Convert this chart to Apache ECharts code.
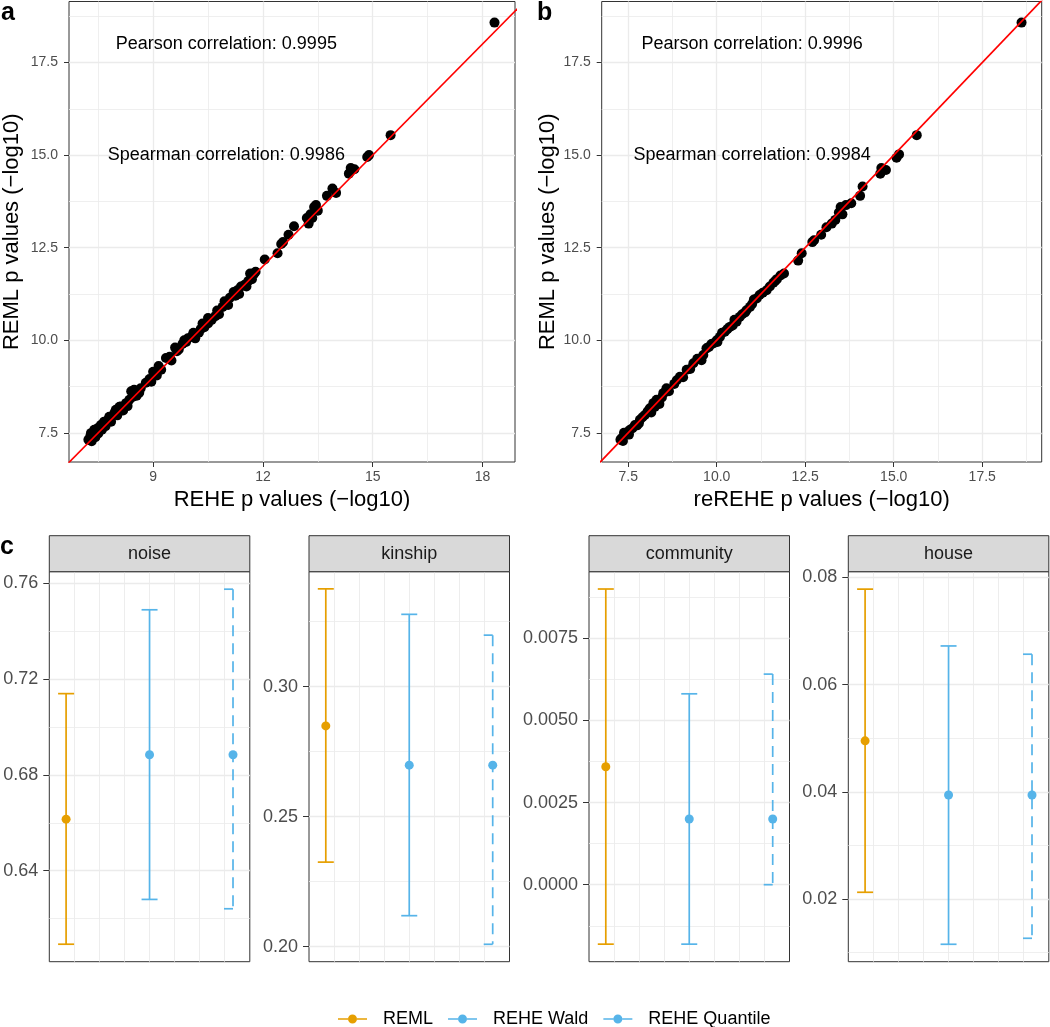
<!DOCTYPE html>
<html>
<head>
<meta charset="utf-8">
<script src="https://cdn.jsdelivr.net/npm/echarts@6/dist/echarts.min.js"></script>
<style>
html,body{margin:0;padding:0;background:#fff;}
#chart{width:1050px;height:1027px;}
</style>
</head>
<body>
<div id="chart"></div>
<script>
// ---------------- DATA ----------------
// Panel a: REHE (x) vs REML (y), -log10 p values
const panelA_REHE = [7.23,7.28,7.32,7.36,7.30,7.39,7.42,7.48,7.50,7.57,7.60,7.66,7.70,7.75,7.80,7.85,7.94,7.98,8.02,8.08,8.12,8.18,8.26,8.30,8.35,8.44,8.40,8.48,8.55,8.66,8.62,8.80,8.90,8.95,9.00,9.10,9.15,9.22,9.35,9.50,9.60,9.70,9.80,9.85,9.95,10.05,10.25,10.30,10.40,10.50,10.50,10.70,10.75,10.90,11.00,11.10,11.20,11.25,11.40,11.50,11.60,11.65,11.75,12.05,12.40,12.50,12.55,12.70,12.85,13.20,13.25,13.30,13.35,13.40,13.45,13.50,13.75,13.90,14.00,14.35,14.40,14.50,14.85,14.90,15.49,18.33,
  9.45,9.65,9.90,10.10,10.15,10.35,10.60,10.80,10.95,11.05,11.30,11.35,11.55,11.70,11.80];
const panelA_REML = [7.31,7.40,7.27,7.45,7.49,7.58,7.38,7.62,7.48,7.71,7.58,7.80,7.68,7.84,7.93,7.80,8.03,8.12,7.97,8.20,8.21,8.10,8.30,8.22,8.39,8.47,8.62,8.66,8.50,8.70,8.58,8.85,8.95,8.88,9.15,9.05,9.30,9.20,9.52,9.45,9.80,9.75,9.90,10.00,10.05,10.10,10.20,10.30,10.35,10.45,10.60,10.65,10.80,10.90,11.00,11.15,11.30,11.20,11.45,11.50,11.60,11.80,11.78,12.18,12.35,12.60,12.65,12.85,13.08,13.30,13.15,13.40,13.30,13.60,13.65,13.50,13.90,14.10,13.98,14.50,14.65,14.62,14.95,15.00,15.54,18.58,
  9.55,9.70,9.95,10.20,10.05,10.45,10.55,10.70,11.05,10.95,11.35,11.25,11.45,11.65,11.85];
// Panel b: reREHE (x) vs REML (y)
const panelB_reREHE = [7.28,7.31,7.35,7.41,7.38,7.48,7.55,7.52,7.62,7.69,7.75,7.83,7.80,7.90,7.97,8.05,8.11,8.15,8.21,8.25,8.30,8.38,8.45,8.49,8.58,8.55,8.65,8.80,8.87,8.96,9.05,9.15,9.25,9.34,9.57,9.71,9.85,9.90,10.00,10.09,10.02,10.23,10.37,10.45,10.56,10.65,10.84,10.94,10.80,11.13,11.21,11.05,11.41,11.50,11.60,11.70,11.90,12.30,12.40,12.70,12.75,12.95,13.10,13.25,13.35,13.45,13.50,13.55,13.65,13.80,14.05,14.12,14.62,14.65,14.78,15.08,15.15,15.65,18.61,
  9.45,9.62,9.78,10.15,10.30,10.50,10.72,11.00,11.30,11.65,11.80];
const panelB_REML = [7.31,7.35,7.28,7.44,7.50,7.52,7.58,7.45,7.62,7.71,7.70,7.85,7.75,7.92,7.98,8.08,8.16,8.05,8.30,8.20,8.39,8.28,8.45,8.57,8.70,8.60,8.62,8.82,8.92,9.01,9.00,9.20,9.22,9.38,9.46,9.78,9.90,9.91,10.00,10.09,9.95,10.23,10.36,10.40,10.50,10.63,10.81,10.90,10.75,11.13,11.22,11.10,11.35,11.45,11.55,11.65,11.80,12.15,12.35,12.65,12.70,12.85,13.05,13.15,13.25,13.45,13.60,13.40,13.65,13.70,13.90,14.15,14.50,14.65,14.60,14.93,15.02,15.54,18.58,
  9.50,9.60,9.82,10.20,10.30,10.55,10.70,10.98,11.28,11.60,11.75];
const annotA = ['Pearson correlation: 0.9995', 'Spearman correlation: 0.9986'];
const annotB = ['Pearson correlation: 0.9996', 'Spearman correlation: 0.9984'];
const annotX = [11, 11];
const annotY = [18, 15];

// Panel a/b tick labels
const abY_major = [7.5, 10, 12.5, 15, 17.5];
const abY_minor = [8.75, 11.25, 13.75, 16.25, 18.75];
const aX_major = [9, 12, 15, 18];
const aX_minor = [7.5, 10.5, 13.5, 16.5];
const bX_major = [7.5, 10, 12.5, 15, 17.5];
const bX_minor = [8.75, 11.25, 13.75, 16.25, 18.75];

// Panel c: variance component estimates with intervals
const facets = ['noise', 'kinship', 'community', 'house'];
const methods = ['REML', 'REHE Wald', 'REHE Quantile'];
const methodX = [0.67, 4.0, 7.33];
const est_noise = [0.6615, 0.6884, 0.6884];
const lo_noise  = [0.6093, 0.6280, 0.6241];
const hi_noise  = [0.7139, 0.7489, 0.7575];
const est_kinship = [0.2849, 0.2698, 0.2698];
const lo_kinship  = [0.2325, 0.2119, 0.2009];
const hi_kinship  = [0.3376, 0.3278, 0.3198];
const est_community = [0.00359, 0.00200, 0.00200];
const lo_community  = [-0.00181, -0.00181, 0.00000];
const hi_community  = [0.00900, 0.00581, 0.00641];
const est_house = [0.0495, 0.0394, 0.0394];
const lo_house  = [0.02125, 0.01155, 0.01267];
const hi_house  = [0.0778, 0.0672, 0.06566];
const noise_major = [0.64, 0.68, 0.72, 0.76];
const noise_minor = [0.62, 0.66, 0.70, 0.74];
const kinship_major = [0.20, 0.25, 0.30];
const kinship_minor = [0.225, 0.275, 0.325];
const community_major = [0, 0.0025, 0.005, 0.0075];
const community_minor = [-0.00125, 0.00125, 0.00375, 0.00625, 0.00875];
const house_major = [0.02, 0.04, 0.06, 0.08];
const house_minor = [0.01, 0.03, 0.05, 0.07];
const cX_grid = [1, 2, 3, 4, 5, 6, 7];

// ---------------- LAYOUT / STYLE ----------------
const FONT = '"Liberation Sans", Arial, Helvetica, sans-serif';
const COLORS = ['#E69F00', '#56B4E9', '#56B4E9'];

const option = {
  animation: false,
  backgroundColor: '#ffffff',
  grid: [], xAxis: [], yAxis: [], series: [], graphic: []
};

function addAxes(list, gi, dim, min, max, majors, minors, lab) {
  list.push({
    type: 'value', gridIndex: gi, min: min, max: max,
    position: dim === 'x' ? 'top' : 'right',
    axisLine: {show: false, onZero: false},
    axisTick: {show: false, customValues: minors},
    axisLabel: {show: false, customValues: minors},
    splitLine: {show: minors.length > 0, lineStyle: {color: '#ebebeb', width: 0.8}}
  });
  const idx = list.length;
  list.push({
    type: 'value', gridIndex: gi, min: min, max: max,
    position: dim === 'x' ? 'bottom' : 'left',
    axisLine: {show: false, onZero: false},
    axisTick: {show: lab.ticks, length: lab.tickLen, lineStyle: {color: '#333333', width: 1}, customValues: majors},
    axisLabel: {show: lab.labels, customValues: majors,
      formatter: v => Number(v).toFixed(lab.dec),
      color: '#4d4d4d', fontSize: lab.size, fontFamily: FONT, margin: lab.margin},
    splitLine: {show: true, lineStyle: {color: '#ebebeb', width: lab.gridW || 1.3}},
    name: lab.name || '', nameLocation: 'middle', nameGap: lab.nameGap || 0,
    nameTextStyle: {fontSize: 22, color: '#000', fontFamily: FONT}
  });
  return idx;
}

function scatterPanel(cfg) {
  const gi = option.grid.length;
  option.grid.push({left: cfg.left, top: 1.5, width: cfg.width, height: 460.5, show: true,
    borderColor: '#333333', borderWidth: 1, backgroundColor: '#fff'});
  const xi = addAxes(option.xAxis, gi, 'x', cfg.xMin, cfg.xMax, cfg.xMajor, cfg.xMinor,
    {ticks: true, labels: true, tickLen: 5, dec: cfg.xDec, size: 14, margin: 8, name: cfg.xName, nameGap: 27});
  const yi = addAxes(option.yAxis, gi, 'y', cfg.yMin, cfg.yMax, abY_major, abY_minor,
    {ticks: true, labels: true, tickLen: 5, dec: 1, size: 14, margin: 11, name: 'REML p values (\u2212log10)', nameGap: cfg.yNameGap});
  option.series.push({
    type: 'scatter', xAxisIndex: xi, yAxisIndex: yi, symbolSize: 10,
    itemStyle: {color: '#000', opacity: 1}, z: 2,
    data: cfg.xs.map((x, i) => [x, cfg.ys[i]])
  });
  option.series.push({
    type: 'line', xAxisIndex: xi, yAxisIndex: yi, symbol: 'none', clip: true, z: 3,
    lineStyle: {color: '#ff0000', width: 1.7}, data: [[0, 0], [25, 25]], silent: true
  });
  option.series.push({
    type: 'custom', xAxisIndex: xi, yAxisIndex: yi, z: 4, clip: false,
    data: annotX.map((x, i) => [x, annotY[i]]),
    renderItem: (params, api) => {
      const p = api.coord([api.value(0), api.value(1)]);
      return {type: 'text', x: p[0], y: p[1],
        style: {text: cfg.annot[params.dataIndex], fill: '#000', fontSize: 18, fontFamily: FONT,
          align: 'center', verticalAlign: 'middle'}};
    }
  });
}

scatterPanel({left: 68, width: 447, xMin: 6.70, xMax: 18.89, yMin: 6.71, yMax: 19.15,
  xMajor: aX_major, xMinor: aX_minor, xDec: 0, xName: 'REHE p values (\u2212log10)', yNameGap: 46,
  xs: panelA_REHE, ys: panelA_REML, annot: annotA});
scatterPanel({left: 601.7, width: 440, xMin: 6.75, xMax: 19.18, yMin: 6.71, yMax: 19.15,
  xMajor: bX_major, xMinor: bX_minor, xDec: 1, xName: 'reREHE p values (\u2212log10)', yNameGap: 43,
  xs: panelB_reREHE, ys: panelB_REML, annot: annotB});

// Panel c facets
const cLefts = [49.3, 309, 589, 848.3];
const cW = 200.5, cTop = 571.7, cH = 390, stripH = 36;
const cData = {
  noise: {est: est_noise, lo: lo_noise, hi: hi_noise, major: noise_major, minor: noise_minor, min: 0.602, max: 0.7648, dec: 2},
  kinship: {est: est_kinship, lo: lo_kinship, hi: hi_kinship, major: kinship_major, minor: kinship_minor, min: 0.1942, max: 0.3442, dec: 2},
  community: {est: est_community, lo: lo_community, hi: hi_community, major: community_major, minor: community_minor, min: -0.002344, max: 0.009527, dec: 4},
  house: {est: est_house, lo: lo_house, hi: hi_house, major: house_major, minor: house_minor, min: 0.0083, max: 0.08105, dec: 2}
};

facets.forEach((f, k) => {
  const d = cData[f];
  const gi = option.grid.length;
  option.grid.push({left: cLefts[k], top: cTop, width: cW, height: cH, show: true,
    borderColor: '#333333', borderWidth: 1, backgroundColor: '#fff'});
  const xi = addAxes(option.xAxis, gi, 'x', 0, 8, cX_grid, [],
    {ticks: false, labels: false, tickLen: 0, dec: 0, size: 18, margin: 8, gridW: 0.9});
  const yi = addAxes(option.yAxis, gi, 'y', d.min, d.max, d.major, d.minor,
    {ticks: true, labels: true, tickLen: 6, dec: d.dec, size: 18, margin: 11});
  methods.forEach((m, j) => {
    const dashed = j === 2;
    option.series.push({
      type: 'custom', name: m + ' interval', xAxisIndex: xi, yAxisIndex: yi, z: 2, clip: false,
      data: [[methodX[j], d.lo[j], d.hi[j]]],
      renderItem: (params, api) => {
        const x = api.value(0);
        const top = api.coord([x, api.value(2)]);
        const bot = api.coord([x, api.value(1)]);
        const capL = dashed ? 9 : 8, capR = dashed ? 0 : 8;
        const st = {stroke: COLORS[j], lineWidth: 1.7};
        return {type: 'group', children: [
          {type: 'line', shape: {x1: top[0], y1: top[1], x2: bot[0], y2: bot[1]},
            style: {stroke: COLORS[j], lineWidth: 1.7, lineDash: dashed ? [11, 7] : null}},
          {type: 'line', shape: {x1: top[0] - capL, y1: top[1], x2: top[0] + capR, y2: top[1]}, style: st},
          {type: 'line', shape: {x1: bot[0] - capL, y1: bot[1], x2: bot[0] + capR, y2: bot[1]}, style: st}
        ]};
      }
    });
    option.series.push({
      type: 'scatter', name: m, xAxisIndex: xi, yAxisIndex: yi, symbolSize: 9, z: 3,
      itemStyle: {color: COLORS[j], opacity: 1},
      data: [[methodX[j], d.est[j]]]
    });
  });
  option.graphic.push({type: 'rect', shape: {x: cLefts[k], y: cTop - stripH, width: cW, height: stripH},
    style: {fill: '#d9d9d9', stroke: '#333333', lineWidth: 1}, z: 10});
  option.graphic.push({type: 'text', x: cLefts[k] + cW / 2, y: cTop - stripH / 2, z: 11,
    style: {text: f, fill: '#1a1a1a', fontSize: 18, fontFamily: FONT, align: 'center', verticalAlign: 'middle'}});
});

// panel letters
[['a', 1, 13], ['b', 537, 13], ['c', 0, 547]].forEach(t => {
  option.graphic.push({type: 'text', x: t[1], y: t[2], z: 11,
    style: {text: t[0], fill: '#000', fontSize: 25, fontWeight: 'bold', fontFamily: FONT, align: 'left', verticalAlign: 'middle'}});
});

option.legend = {
  data: methods, left: 338, top: 1010, padding: 0, itemGap: 15,
  itemWidth: 29, itemHeight: 10,
  icon: 'path://M0,4.2H10V5.8H0Z M19,4.2H29V5.8H19Z M10,5A4.5,4.5,0,1,1,19,5A4.5,4.5,0,1,1,10,5Z',
  textStyle: {fontSize: 18, color: '#000', fontFamily: FONT, padding: [0, 0, 0, 11]},
  selectedMode: false
};

const chart = echarts.init(document.getElementById('chart'), null, {renderer: 'canvas'});
chart.setOption(option);
</script>
</body>
</html>
